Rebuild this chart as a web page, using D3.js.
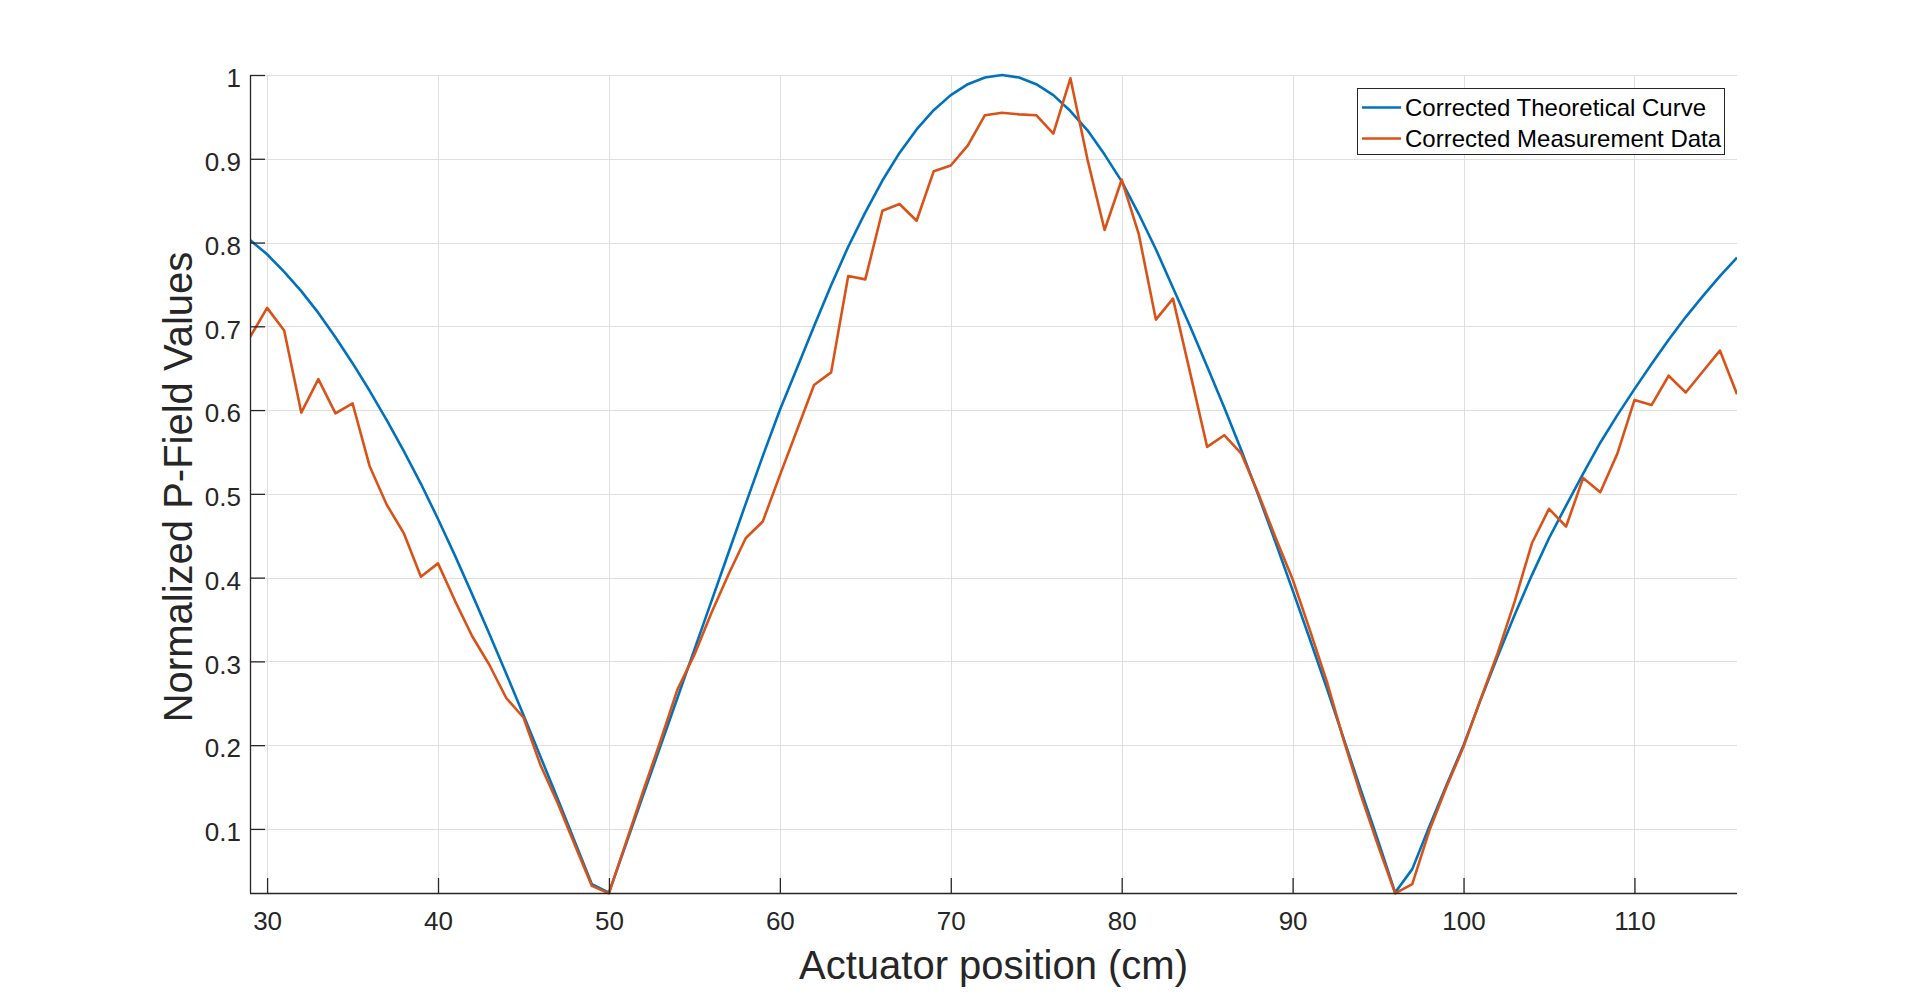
<!DOCTYPE html>
<html>
<head>
<meta charset="utf-8">
<script src="https://cdn.jsdelivr.net/npm/d3@7"></script>
<style>
  html, body { margin: 0; padding: 0; background: #fff; }
  svg { display: block; }
  text { font-family: "Liberation Sans", Arial, Helvetica, sans-serif; }
</style>
</head>
<body>
<svg id="chart" width="1920" height="1004"></svg>
<script>
// ---- data ----
const positions = [29,30,31,32,33,34,35,36,37,38,39,40,41,42,43,44,45,46,47,48,49,50,
  51,52,53,54,55,56,57,58,59,60,61,62,63,64,65,66,67,68,69,70,71,72,73,74,75,76,77,78,79,80,
  81,82,83,84,85,86,87,88,89,90,91,92,93,94,95,96,97,98,99,100,101,102,103,104,105,106,107,108,
  109,110,111,112,113,114,115,116];

const theoretical = [0.803,0.786,0.765,0.742,0.716,0.687,0.656,0.623,0.588,0.551,0.512,
  0.470,0.426,0.380,0.333,0.285,0.236,0.186,0.136,0.085,0.034,0.024,
  0.082,0.140,0.198,0.256,0.314,0.372,0.430,0.488,0.545,0.600,
  0.650,0.700,0.749,0.795,0.836,0.874,0.907,0.935,0.958,0.976,0.989,0.997,1.000,
  0.997,0.989,0.976,0.957,0.934,0.905,0.873,0.834,0.792,0.746,0.700,0.652,0.603,0.552,
  0.498,0.442,0.385,0.327,0.268,0.207,0.146,0.086,0.024,
  0.052,0.103,0.152,0.200,0.254,0.306,0.356,0.403,0.447,0.486,0.524,0.561,0.594,0.625,
  0.655,0.684,0.711,0.736,0.760,0.782];

const measured = [0.687,0.722,0.695,0.597,0.637,0.596,0.608,0.533,0.487,0.453,0.401,
  0.417,0.372,0.330,0.296,0.256,0.233,0.176,0.131,0.081,0.032,0.023,
  0.084,0.145,0.204,0.266,0.308,0.358,0.404,0.447,0.467,0.522,
  0.576,0.630,0.645,0.760,0.756,0.838,0.846,0.826,0.885,0.892,0.916,0.952,0.955,
  0.953,0.952,0.930,0.996,0.899,0.815,0.875,0.810,0.708,0.733,0.645,0.556,0.570,0.548,
  0.500,0.448,0.398,0.338,0.276,0.205,0.140,0.080,0.023,
  0.034,0.098,0.150,0.198,0.255,0.310,0.372,0.441,0.482,0.461,0.519,0.502,0.548,0.612,
  0.606,0.641,0.621,0.646,0.671,0.619];

const xTicks = [30,40,50,60,70,80,90,100,110];
const yTicks = [0.1,0.2,0.3,0.4,0.5,0.6,0.7,0.8,0.9,1];
const yTickLabels = ["0.1","0.2","0.3","0.4","0.5","0.6","0.7","0.8","0.9","1"];
const seriesNames = ["Corrected Theoretical Curve", "Corrected Measurement Data"];
const seriesColors = ["#0072BD", "#D95319"];
const xLabel = "Actuator position (cm)";
const yLabel = "Normalized P-Field Values";
const xDomain = [29, 116];
const yDomain = [0.0235, 1];

// ---- layout ----
const svg = d3.select("#chart");
const L = 250, R = 1737, T = 75, B = 893;
const axisColor = "#262626";

const x = d3.scaleLinear().domain(xDomain).range([L, R]);
const y = d3.scaleLinear().domain(yDomain).range([B, T]);

// grid
const grid = svg.append("g").attr("stroke", "#dfdfdf").attr("stroke-width", 1);
grid.selectAll("line.v").data(xTicks).join("line")
  .attr("x1", d => Math.round(x(d)) + 0.5).attr("x2", d => Math.round(x(d)) + 0.5)
  .attr("y1", T).attr("y2", B);
grid.selectAll("line.h").data(yTicks).join("line")
  .attr("y1", d => Math.round(y(d)) + 0.5).attr("y2", d => Math.round(y(d)) + 0.5)
  .attr("x1", L).attr("x2", R);

// clip
svg.append("clipPath").attr("id", "plotclip").append("rect")
  .attr("x", L).attr("y", T - 3).attr("width", R - L).attr("height", B - T + 6);

const series = [theoretical, measured];
const line = d3.line().x(d => x(d[0])).y(d => y(d[1]));
const plot = svg.append("g").attr("clip-path", "url(#plotclip)");
series.forEach((vals, i) => {
  plot.append("path")
    .datum(positions.map((p, j) => [p, vals[j]]))
    .attr("fill", "none")
    .attr("stroke", seriesColors[i])
    .attr("stroke-width", 2.6)
    .attr("stroke-linejoin", "round")
    .attr("d", line);
});

// axes
const xAxis = d3.axisBottom(x).tickValues(xTicks).tickSize(-15).tickPadding(18.5)
  .tickFormat(d3.format("d"));
const gx = svg.append("g").attr("transform", `translate(0,${B})`).call(xAxis);
const yAxis = d3.axisLeft(y).tickValues(yTicks).tickSize(-15).tickPadding(9)
  .tickFormat((d, i) => yTickLabels[i]);
const gy = svg.append("g").attr("transform", `translate(${L},0)`).call(yAxis);

[gx, gy].forEach(g => {
  g.select(".domain").attr("stroke", axisColor).attr("stroke-width", 1.3);
  g.selectAll(".tick line").attr("stroke", axisColor).attr("stroke-width", 1.3);
  g.selectAll(".tick text").attr("fill", axisColor)
    .style("font-family", "'Liberation Sans', Arial, sans-serif")
    .style("font-size", "26px");
});
gx.select(".domain").attr("d", `M${L},0.5H${R}`);
gy.select(".domain").attr("d", `M0.5,${B}V${T}`);
gy.selectAll(".tick text").attr("dy", "0.45em");

// axis labels
svg.append("text")
  .attr("x", (L + R) / 2).attr("y", 979)
  .attr("text-anchor", "middle")
  .attr("fill", axisColor)
  .style("font-size", "40px")
  .text(xLabel);

svg.append("text")
  .attr("transform", `translate(192,${(T + B) / 2 + 3}) rotate(-90)`)
  .attr("text-anchor", "middle")
  .attr("fill", axisColor)
  .style("font-size", "40px")
  .text(yLabel);

// legend
const lg = svg.append("g");
lg.append("rect")
  .attr("x", 1357.5).attr("y", 88.5).attr("width", 367).attr("height", 66)
  .attr("fill", "#fff").attr("stroke", axisColor).attr("stroke-width", 1);
const rowsY = [107.5, 138.5];
seriesNames.forEach((name, i) => {
  lg.append("line")
    .attr("x1", 1362).attr("x2", 1401)
    .attr("y1", rowsY[i]).attr("y2", rowsY[i])
    .attr("stroke", seriesColors[i]).attr("stroke-width", 2.6);
  lg.append("text")
    .attr("x", 1405).attr("y", rowsY[i] + 8.6)
    .attr("fill", "#000")
    .style("font-size", "24px")
    .text(name);
});
</script>
</body>
</html>
